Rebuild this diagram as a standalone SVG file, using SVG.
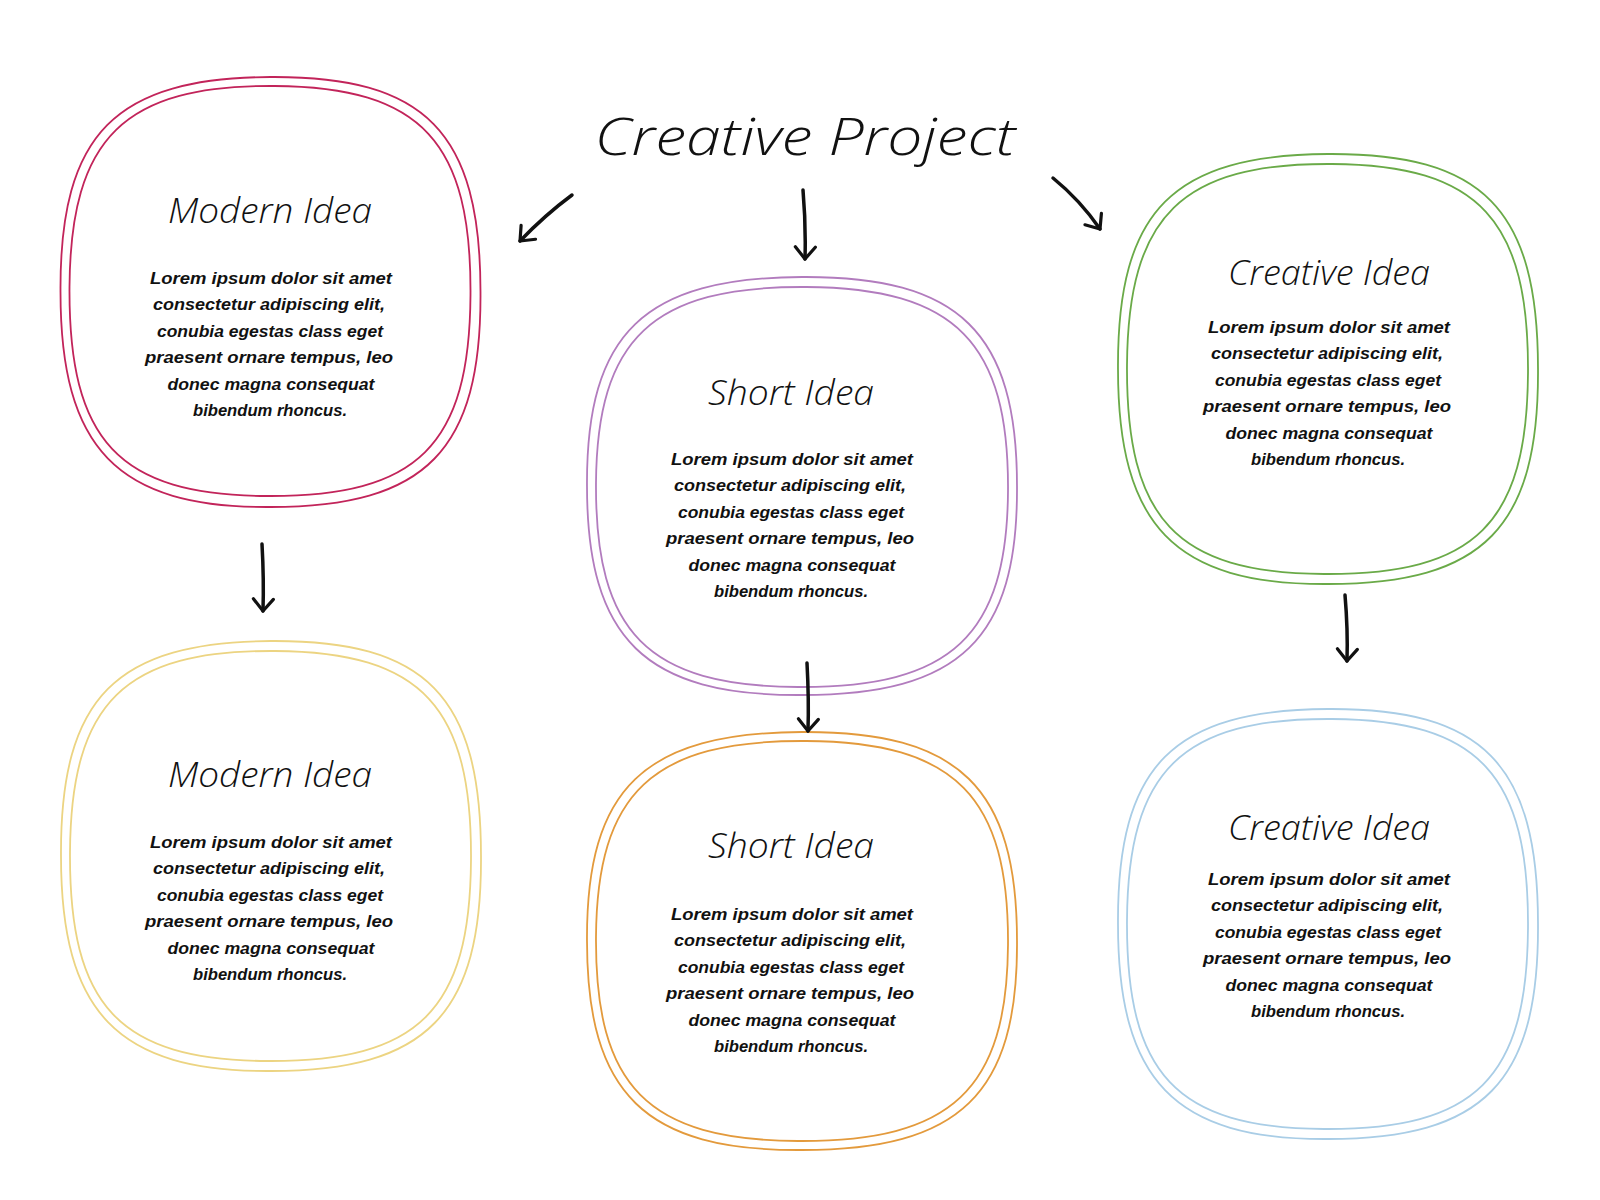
<svg xmlns="http://www.w3.org/2000/svg" xmlns:xlink="http://www.w3.org/1999/xlink" width="1600" height="1200" viewBox="0 0 1600 1200">
<style>
.loop{fill:none;stroke-width:1.8}
.red{stroke:#c2245a}
.purple{stroke:#b27cbe}
.green{stroke:#6aaa48}
.yellow{stroke:#ecd482}
.orange{stroke:#e39a3c}
.blue{stroke:#a9cde6}
.main{font-family:"Open Sans","Liberation Sans",Arial,sans-serif;font-style:italic;font-weight:300;font-size:52px;fill:#111;text-anchor:middle}
.title{font-family:"Open Sans","Liberation Sans",Arial,sans-serif;font-style:italic;font-weight:300;font-size:34px;fill:#111;text-anchor:middle}
.body{font-family:"Liberation Sans",Arial,sans-serif;font-style:italic;font-weight:bold;font-size:16px;fill:#111;text-anchor:middle}
.arrow{fill:none;stroke:#111;stroke-width:3.5;stroke-linecap:round;marker-end:url(#head)}
</style>
<defs>
<marker id="head" viewBox="-3 -13 19 26" markerWidth="19" markerHeight="26" markerUnits="userSpaceOnUse" refX="12" refY="0" orient="auto">
<path d="M0,-10 L12,0 L0,10" fill="none" stroke="#111" stroke-width="3.2" stroke-linecap="round" stroke-linejoin="round"/>
</marker>
<path id="tallOut" d="M0,-215 C155,-216 210,-160 210,0 C211,158 156,215 0,215 C-154,216 -210,156 -210,0 C-211,-160 -154,-214 0,-215 Z"/>
<path id="tallIn" d="M4,-205 C152,-204 201,-148 200,4 C199,154 148,206 -4,205 C-152,204 -202,150 -201,-4 C-200,-154 -146,-206 4,-205 Z"/>
<path id="wideOut" d="M0,-209 C158,-210 215,-153 215,0 C216,153 158,209 0,209 C-157,210 -215,153 -215,0 C-216,-154 -157,-208 0,-209 Z"/>
<path id="wideIn" d="M4,-200 C154,-199 207,-144 206,4 C205,148 150,201 -4,200 C-154,199 -207,146 -206,-4 C-205,-148 -150,-201 4,-200 Z"/>
</defs>
<rect width="1600" height="1200" fill="#ffffff"/>

<g id="title">
<text class="main" x="805" y="155" textLength="421" lengthAdjust="spacingAndGlyphs">Creative Project</text>
</g>

<g id="node-modern-1">
<use xlink:href="#tallOut" href="#tallOut" class="loop red" transform="translate(270.5,292)"/>
<use xlink:href="#tallIn" href="#tallIn" class="loop red" transform="translate(270.5,291)"/>
<text class="title" x="270" y="223" textLength="204" lengthAdjust="spacingAndGlyphs">Modern Idea</text>
<text class="body" x="271" y="284" textLength="242" lengthAdjust="spacingAndGlyphs">Lorem ipsum dolor sit amet</text>
<text class="body" x="269" y="310" textLength="232" lengthAdjust="spacingAndGlyphs">consectetur adipiscing elit,</text>
<text class="body" x="270" y="337" textLength="226" lengthAdjust="spacingAndGlyphs">conubia egestas class eget</text>
<text class="body" x="269" y="363" textLength="248" lengthAdjust="spacingAndGlyphs">praesent ornare tempus, leo</text>
<text class="body" x="271" y="390" textLength="207" lengthAdjust="spacingAndGlyphs">donec magna consequat</text>
<text class="body" x="270" y="416" textLength="154" lengthAdjust="spacingAndGlyphs">bibendum rhoncus.</text>
</g>

<g id="node-short-1">
<use xlink:href="#wideOut" href="#wideOut" class="loop purple" transform="translate(802,486)"/>
<use xlink:href="#wideIn" href="#wideIn" class="loop purple" transform="translate(802,487)"/>
<text class="title" x="791" y="405" textLength="166" lengthAdjust="spacingAndGlyphs">Short Idea</text>
<text class="body" x="792" y="465" textLength="242" lengthAdjust="spacingAndGlyphs">Lorem ipsum dolor sit amet</text>
<text class="body" x="790" y="491" textLength="232" lengthAdjust="spacingAndGlyphs">consectetur adipiscing elit,</text>
<text class="body" x="791" y="518" textLength="226" lengthAdjust="spacingAndGlyphs">conubia egestas class eget</text>
<text class="body" x="790" y="544" textLength="248" lengthAdjust="spacingAndGlyphs">praesent ornare tempus, leo</text>
<text class="body" x="792" y="571" textLength="207" lengthAdjust="spacingAndGlyphs">donec magna consequat</text>
<text class="body" x="791" y="597" textLength="154" lengthAdjust="spacingAndGlyphs">bibendum rhoncus.</text>
</g>

<g id="node-creative-1">
<use xlink:href="#tallOut" href="#tallOut" class="loop green" transform="translate(1328,369)"/>
<use xlink:href="#tallIn" href="#tallIn" class="loop green" transform="translate(1328,369)"/>
<text class="title" x="1329" y="285" textLength="202" lengthAdjust="spacingAndGlyphs">Creative Idea</text>
<text class="body" x="1329" y="333" textLength="242" lengthAdjust="spacingAndGlyphs">Lorem ipsum dolor sit amet</text>
<text class="body" x="1327" y="359" textLength="232" lengthAdjust="spacingAndGlyphs">consectetur adipiscing elit,</text>
<text class="body" x="1328" y="386" textLength="226" lengthAdjust="spacingAndGlyphs">conubia egestas class eget</text>
<text class="body" x="1327" y="412" textLength="248" lengthAdjust="spacingAndGlyphs">praesent ornare tempus, leo</text>
<text class="body" x="1329" y="439" textLength="207" lengthAdjust="spacingAndGlyphs">donec magna consequat</text>
<text class="body" x="1328" y="465" textLength="154" lengthAdjust="spacingAndGlyphs">bibendum rhoncus.</text>
</g>

<g id="node-modern-2">
<use xlink:href="#tallOut" href="#tallOut" class="loop yellow" transform="translate(271,856)"/>
<use xlink:href="#tallIn" href="#tallIn" class="loop yellow" transform="translate(271,856)"/>
<text class="title" x="270" y="787" textLength="204" lengthAdjust="spacingAndGlyphs">Modern Idea</text>
<text class="body" x="271" y="848" textLength="242" lengthAdjust="spacingAndGlyphs">Lorem ipsum dolor sit amet</text>
<text class="body" x="269" y="874" textLength="232" lengthAdjust="spacingAndGlyphs">consectetur adipiscing elit,</text>
<text class="body" x="270" y="901" textLength="226" lengthAdjust="spacingAndGlyphs">conubia egestas class eget</text>
<text class="body" x="269" y="927" textLength="248" lengthAdjust="spacingAndGlyphs">praesent ornare tempus, leo</text>
<text class="body" x="271" y="954" textLength="207" lengthAdjust="spacingAndGlyphs">donec magna consequat</text>
<text class="body" x="270" y="980" textLength="154" lengthAdjust="spacingAndGlyphs">bibendum rhoncus.</text>
</g>

<g id="node-short-2">
<use xlink:href="#wideOut" href="#wideOut" class="loop orange" transform="translate(802,941)"/>
<use xlink:href="#wideIn" href="#wideIn" class="loop orange" transform="translate(802,941)"/>
<text class="title" x="791" y="858" textLength="166" lengthAdjust="spacingAndGlyphs">Short Idea</text>
<text class="body" x="792" y="920" textLength="242" lengthAdjust="spacingAndGlyphs">Lorem ipsum dolor sit amet</text>
<text class="body" x="790" y="946" textLength="232" lengthAdjust="spacingAndGlyphs">consectetur adipiscing elit,</text>
<text class="body" x="791" y="973" textLength="226" lengthAdjust="spacingAndGlyphs">conubia egestas class eget</text>
<text class="body" x="790" y="999" textLength="248" lengthAdjust="spacingAndGlyphs">praesent ornare tempus, leo</text>
<text class="body" x="792" y="1026" textLength="207" lengthAdjust="spacingAndGlyphs">donec magna consequat</text>
<text class="body" x="791" y="1052" textLength="154" lengthAdjust="spacingAndGlyphs">bibendum rhoncus.</text>
</g>

<g id="node-creative-2">
<use xlink:href="#tallOut" href="#tallOut" class="loop blue" transform="translate(1328,924)"/>
<use xlink:href="#tallIn" href="#tallIn" class="loop blue" transform="translate(1328,924)"/>
<text class="title" x="1329" y="840" textLength="202" lengthAdjust="spacingAndGlyphs">Creative Idea</text>
<text class="body" x="1329" y="885" textLength="242" lengthAdjust="spacingAndGlyphs">Lorem ipsum dolor sit amet</text>
<text class="body" x="1327" y="911" textLength="232" lengthAdjust="spacingAndGlyphs">consectetur adipiscing elit,</text>
<text class="body" x="1328" y="938" textLength="226" lengthAdjust="spacingAndGlyphs">conubia egestas class eget</text>
<text class="body" x="1327" y="964" textLength="248" lengthAdjust="spacingAndGlyphs">praesent ornare tempus, leo</text>
<text class="body" x="1329" y="991" textLength="207" lengthAdjust="spacingAndGlyphs">donec magna consequat</text>
<text class="body" x="1328" y="1017" textLength="154" lengthAdjust="spacingAndGlyphs">bibendum rhoncus.</text>
</g>

<g id="connectors">
<path class="arrow" d="M572,195 Q545,215 520,241"/>
<path class="arrow" d="M803,190 Q806,225 805,259"/>
<path class="arrow" d="M1053,178 Q1080,200 1100,229"/>
<path class="arrow" d="M262,544 Q264,580 263,611"/>
<path class="arrow" d="M807,663 Q809,700 808,731"/>
<path class="arrow" d="M1345,595 Q1348,630 1347,661"/>
</g>
</svg>
